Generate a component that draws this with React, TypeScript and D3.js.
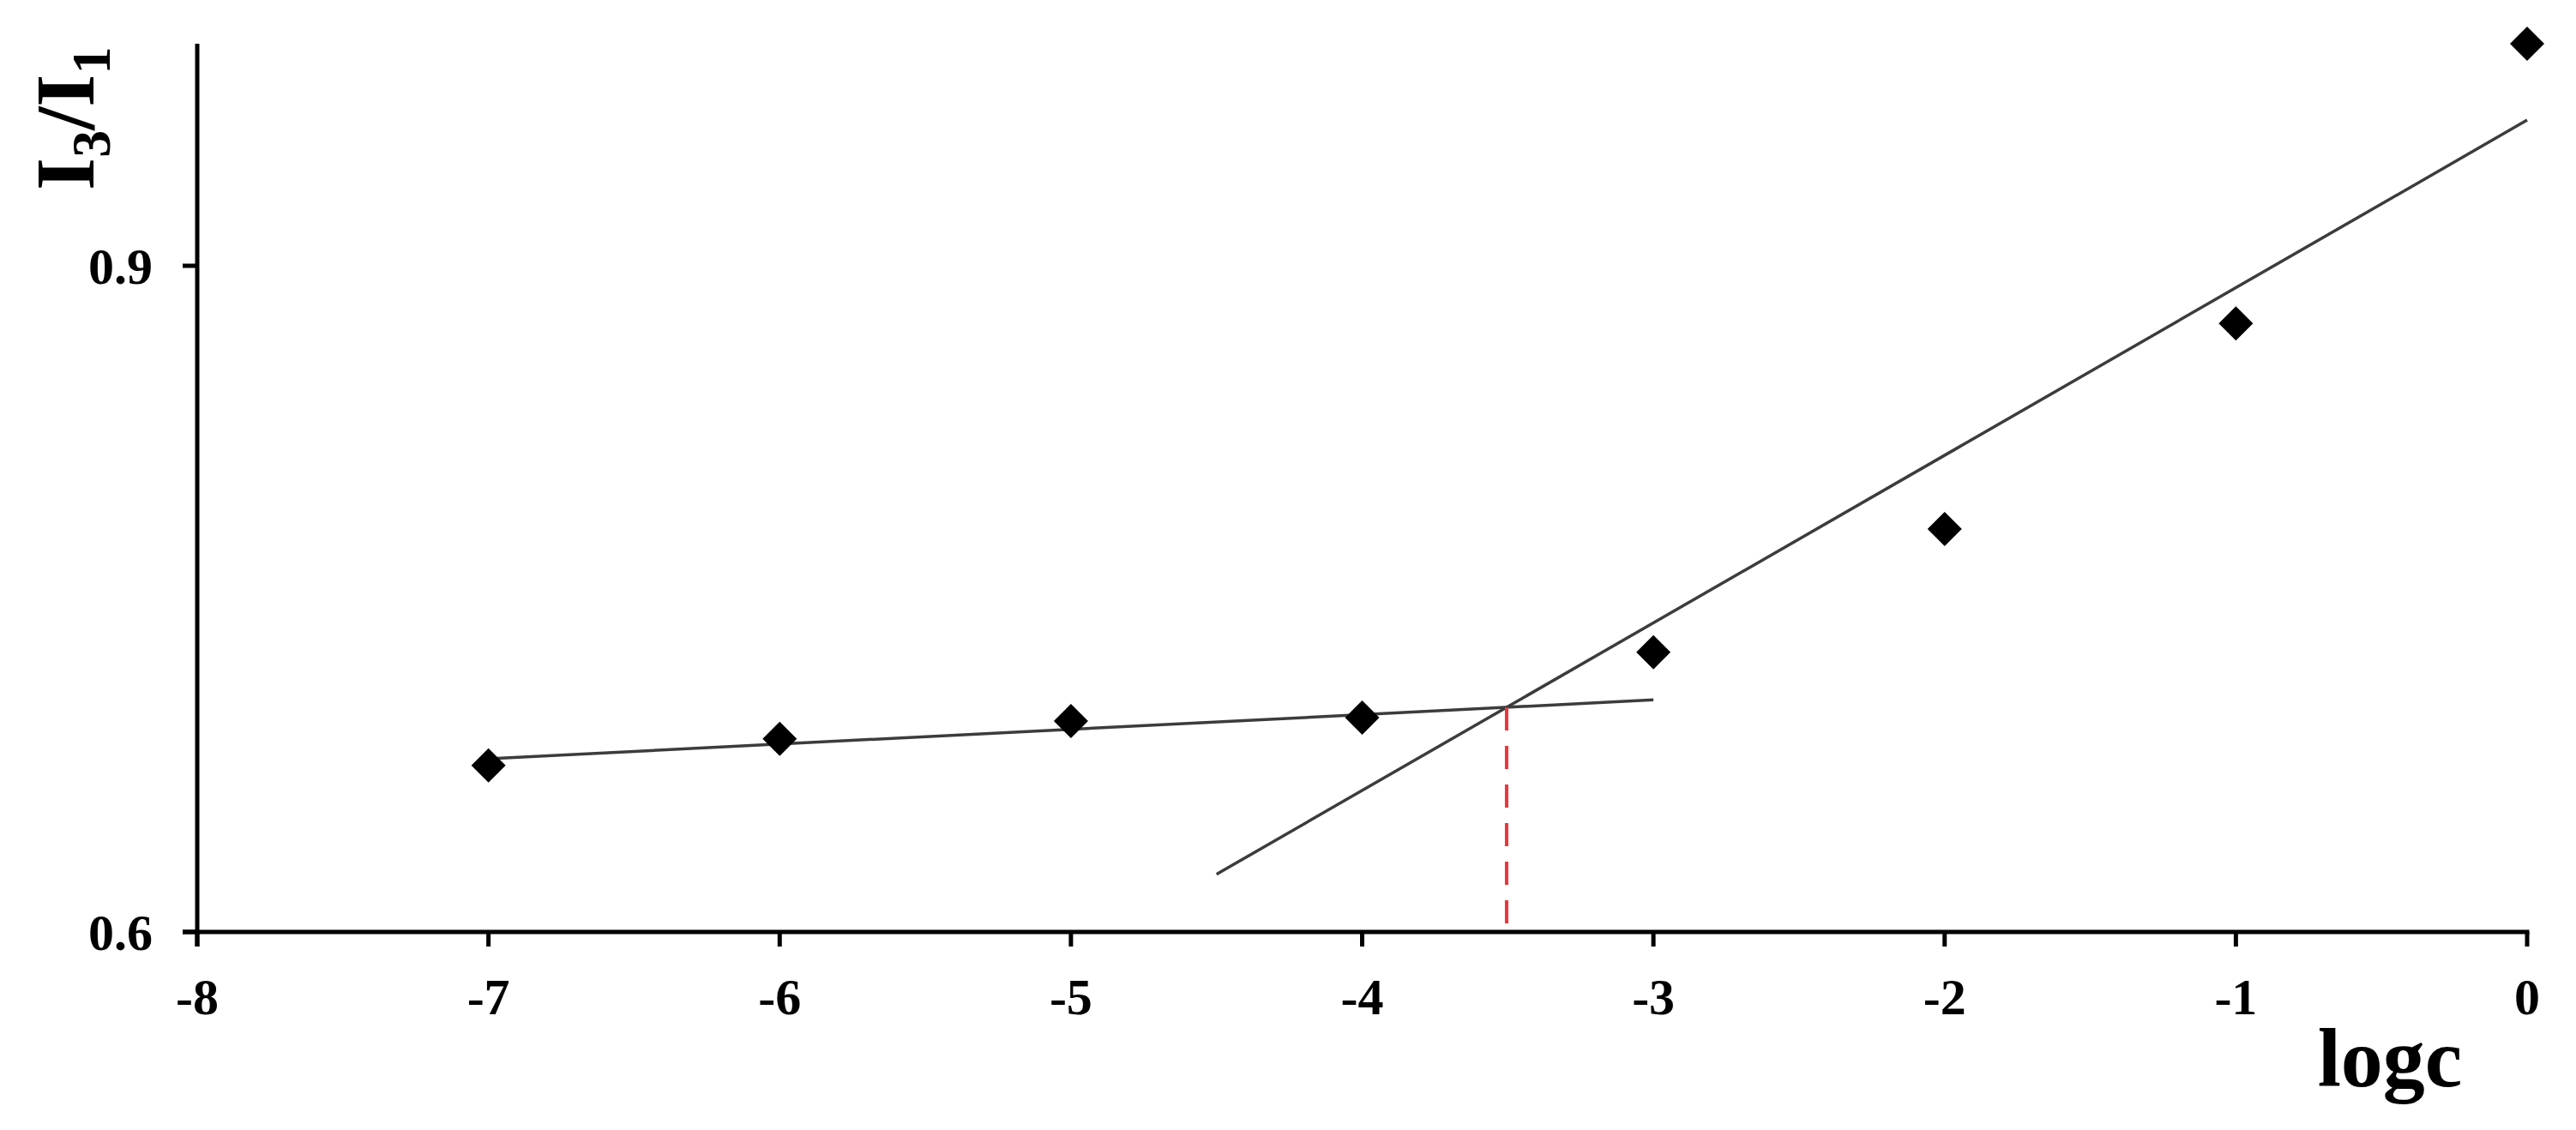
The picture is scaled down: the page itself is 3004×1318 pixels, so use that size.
import React from "react";
import * as d3 from "d3";

const logc = [-7, -6, -5, -4, -3, -2, -1, 0];
const ratio = [0.675, 0.687, 0.695, 0.6965, 0.726, 0.7815, 0.874, 1.0];
const xTicks = [-8, -7, -6, -5, -4, -3, -2, -1, 0];
const yTicks = [0.6, 0.9];
const fitLow = [
  { x: -7, y: 0.678 },
  { x: -3, y: 0.7045 },
];
const fitHigh = [
  { x: -4.5, y: 0.626 },
  { x: 0, y: 0.9656 },
];

const W = 3004;
const H = 1318;
const FONT = "'Liberation Serif', 'Times New Roman', serif";

export default function App() {
  const x = d3.scaleLinear().domain([-8, 0]).range([230, 2947]);
  const y = d3.scaleLinear().domain([0.6, 1.0]).range([1087, 51]);
  const line = d3
    .line<{ x: number; y: number }>()
    .x((d) => x(d.x))
    .y((d) => y(d.y));

  // intersection of the two fit lines
  const s1 = (fitLow[1].y - fitLow[0].y) / (fitLow[1].x - fitLow[0].x);
  const s2 = (fitHigh[1].y - fitHigh[0].y) / (fitHigh[1].x - fitHigh[0].x);
  const b1 = fitLow[0].y - s1 * fitLow[0].x;
  const b2 = fitHigh[0].y - s2 * fitHigh[0].x;
  const ix = (b2 - b1) / (s1 - s2);
  const iy = s1 * ix + b1;

  const r = 20;
  const tick = 17;
  const axisW = 5;

  return (
    <svg
      width={W}
      height={H}
      style={{ position: "absolute", left: 0, top: 0, background: "#fff" }}
    >
      <rect x={0} y={0} width={W} height={H} fill="#fff" />
      {/* fit lines */}
      <path d={line(fitLow) || ""} stroke="#3c3c3c" strokeWidth={3.5} fill="none" />
      <path d={line(fitHigh) || ""} stroke="#3c3c3c" strokeWidth={3.5} fill="none" />
      {/* red dashed marker */}
      <line
        x1={x(ix)}
        x2={x(ix)}
        y1={y(iy)}
        y2={y(0.6) - 8}
        stroke="#e8363b"
        strokeWidth={4}
        strokeDasharray="27 18"
      />
      {/* points */}
      {logc.map((v, i) => {
        const cx = x(v);
        const cy = y(ratio[i]);
        return (
          <path
            key={i}
            d={`M${cx},${cy - r}L${cx + r},${cy}L${cx},${cy + r}L${cx - r},${cy}Z`}
            fill="#000"
          />
        );
      })}
      {/* axes */}
      <line x1={x(-8)} x2={x(-8)} y1={y(1.0)} y2={y(0.6) + tick} stroke="#000" strokeWidth={axisW} />
      <line x1={x(-8) - tick} x2={x(0) + axisW / 2} y1={y(0.6)} y2={y(0.6)} stroke="#000" strokeWidth={axisW} />
      {yTicks.map((t) => (
        <g key={"y" + t}>
          <line x1={x(-8) - tick} x2={x(-8)} y1={y(t)} y2={y(t)} stroke="#000" strokeWidth={axisW} />
          <text
            x={178}
            y={y(t)}
            dy="0.35em"
            textAnchor="end"
            fontFamily={FONT}
            fontWeight="bold"
            fontSize={60}
          >
            {t.toFixed(1)}
          </text>
        </g>
      ))}
      {xTicks.map((t) => (
        <g key={"x" + t}>
          <line x1={x(t)} x2={x(t)} y1={y(0.6)} y2={y(0.6) + tick} stroke="#000" strokeWidth={axisW} />
          <text
            x={x(t)}
            y={1183}
            textAnchor="middle"
            fontFamily={FONT}
            fontWeight="bold"
            fontSize={60}
          >
            {String(t)}
          </text>
        </g>
      ))}
      {/* axis titles */}
      <text
        x={2787}
        y={1267}
        textAnchor="middle"
        fontFamily={FONT}
        fontWeight="bold"
        fontSize={98}
      >
        logc
      </text>
      <text
        transform="translate(109,222) rotate(-90)"
        fontFamily={FONT}
        fontWeight="bold"
        fontSize={98}
      >
        I
        <tspan fontSize={64} dy={19}>3</tspan>
        <tspan dy={-19}>/I</tspan>
        <tspan fontSize={64} dy={19}>1</tspan>
      </text>
    </svg>
  );
}
